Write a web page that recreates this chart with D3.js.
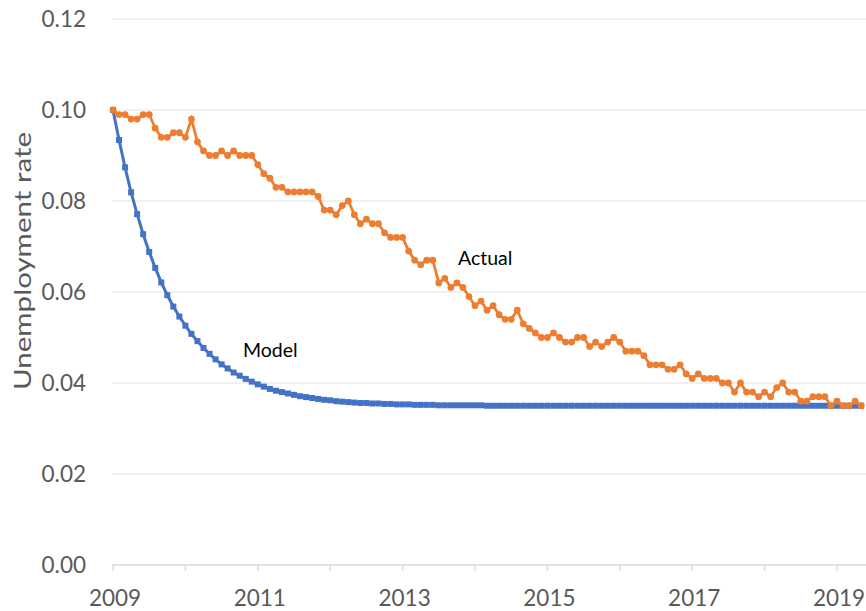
<!DOCTYPE html>
<html>
<head>
<meta charset="utf-8">
<script src="https://cdn.jsdelivr.net/npm/d3@7"></script>
<style>
  body { margin: 0; background: #fff; }
  svg { display: block; font-family: Lato, "Open Sans", sans-serif; }
</style>
</head>
<body>
<div id="chart"></div>
<script>
// monthly series, first point plotted at 2009.0, one step = 1/12 year
var actual = [
  0.100, 0.099, 0.099,
  0.098, 0.098, 0.099, 0.099, 0.096, 0.094, 0.094, 0.095, 0.095, 0.094, 0.098, 0.093,
  0.091, 0.090, 0.090, 0.091, 0.090, 0.091, 0.090, 0.090, 0.090, 0.088, 0.086, 0.085,
  0.083, 0.083, 0.082, 0.082, 0.082, 0.082, 0.082, 0.081, 0.078, 0.078, 0.077, 0.079,
  0.080, 0.077, 0.075, 0.076, 0.075, 0.075, 0.073, 0.072, 0.072, 0.072, 0.069, 0.067,
  0.066, 0.067, 0.067, 0.062, 0.063, 0.061, 0.062, 0.061, 0.059, 0.057, 0.058, 0.056,
  0.057, 0.055, 0.054, 0.054, 0.056, 0.053, 0.052, 0.051, 0.050, 0.050, 0.051, 0.050,
  0.049, 0.049, 0.050, 0.050, 0.048, 0.049, 0.048, 0.049, 0.050, 0.049, 0.047, 0.047,
  0.047, 0.046, 0.044, 0.044, 0.044, 0.043, 0.043, 0.044, 0.042, 0.041, 0.042, 0.041,
  0.041, 0.041, 0.040, 0.040, 0.038, 0.040, 0.038, 0.038, 0.037, 0.038, 0.037, 0.039,
  0.040, 0.038, 0.038, 0.036, 0.036, 0.037, 0.037, 0.037, 0.035, 0.036, 0.035, 0.035,
  0.036, 0.035
];

var model = [
  0.1000, 0.0934, 0.0874, 0.0819, 0.0771, 0.0727, 0.0688, 0.0653, 0.0621, 0.0593,
  0.0568, 0.0546, 0.0526, 0.0508, 0.0492, 0.0477, 0.0464, 0.0452, 0.0441, 0.0432,
  0.0423, 0.0416, 0.0409, 0.0403, 0.0397, 0.0392, 0.0387, 0.0383, 0.0380, 0.0377,
  0.0374, 0.0371, 0.0369, 0.0367, 0.0365, 0.0363, 0.0362, 0.0360, 0.0359, 0.0358,
  0.0357, 0.0356, 0.0356, 0.0355, 0.0355, 0.0354, 0.0354, 0.0353, 0.0353, 0.0353,
  0.0352, 0.0352, 0.0352, 0.0352, 0.0351, 0.0351, 0.0351, 0.0351, 0.0351, 0.0351,
  0.0351, 0.0351, 0.0350, 0.0350, 0.0350, 0.0350, 0.0350, 0.0350, 0.0350, 0.0350,
  0.0350, 0.0350, 0.0350, 0.0350, 0.0350, 0.0350, 0.0350, 0.0350, 0.0350, 0.0350,
  0.0350, 0.0350, 0.0350, 0.0350, 0.0350, 0.0350, 0.0350, 0.0350, 0.0350, 0.0350,
  0.0350, 0.0350, 0.0350, 0.0350, 0.0350, 0.0350, 0.0350, 0.0350, 0.0350, 0.0350,
  0.0350, 0.0350, 0.0350, 0.0350, 0.0350, 0.0350, 0.0350, 0.0350, 0.0350, 0.0350,
  0.0350, 0.0350, 0.0350, 0.0350, 0.0350, 0.0350, 0.0350, 0.0350, 0.0350, 0.0350,
  0.0350, 0.0350, 0.0350, 0.0350, 0.0350
];

var startYear = 2009;
var yTicks = [0, 0.02, 0.04, 0.06, 0.08, 0.10, 0.12];
var xTicks = [2009, 2010, 2011, 2012, 2013, 2014, 2015, 2016, 2017, 2018, 2019];
var xLabels = [2009, 2011, 2013, 2015, 2017, 2019];

var width = 866, height = 611;

var x = d3.scaleLinear()
    .domain([2009, 2019])
    .range([113, 837]);
var y = d3.scaleLinear()
    .domain([0, 0.12])
    .range([565, 19]);

var svg = d3.select("#chart").append("svg")
    .attr("width", width)
    .attr("height", height);

// horizontal gridlines
svg.append("g")
  .selectAll("line")
  .data(yTicks.filter(function(d) { return d > 0; }))
  .enter().append("line")
    .attr("x1", 112)
    .attr("x2", width)
    .attr("y1", function(d) { return y(d); })
    .attr("y2", function(d) { return y(d); })
    .style("stroke", "#ebebeb")
    .style("stroke-width", 1.3);

// y labels
svg.append("g")
  .selectAll("text")
  .data(yTicks)
  .enter().append("text")
    .attr("x", 86)
    .attr("y", function(d) { return y(d); })
    .attr("dy", "0.36em")
    .attr("text-anchor", "end")
    .style("font-size", "22.5px")
    .style("fill", "#595959")
    .text(function(d) { return d3.format(".2f")(d); });

// x axis line and ticks
svg.append("line")
    .attr("x1", 112)
    .attr("x2", width)
    .attr("y1", y(0))
    .attr("y2", y(0))
    .style("stroke", "#d9d9d9")
    .style("stroke-width", 1.5);

svg.append("g")
  .selectAll("line")
  .data(xTicks)
  .enter().append("line")
    .attr("x1", function(d) { return x(d); })
    .attr("x2", function(d) { return x(d); })
    .attr("y1", y(0))
    .attr("y2", y(0) + 6)
    .style("stroke", "#d9d9d9")
    .style("stroke-width", 1.3);

svg.append("g")
  .selectAll("text")
  .data(xLabels)
  .enter().append("text")
    .attr("x", function(d) { return x(d) + 2; })
    .attr("y", 606)
    .attr("text-anchor", "middle")
    .style("font-size", "22.5px")
    .style("fill", "#595959")
    .text(function(d) { return d; });

// y axis title
svg.append("text")
    .attr("transform", "translate(31,261) rotate(-90)")
    .attr("text-anchor", "middle")
    .attr("textLength", 258)
    .attr("lengthAdjust", "spacingAndGlyphs")
    .style("font-size", "23px")
    .style("fill", "#595959")
    .text("Unemployment rate");

var xi = function(d, i) { return x(startYear + i / 12); };

// model line
var line = d3.line()
    .x(xi)
    .y(function(d) { return y(d); });

svg.append("path")
    .datum(model)
    .attr("d", line)
    .style("fill", "none")
    .style("stroke", "#4472C4")
    .style("stroke-width", 3);

svg.append("g")
  .selectAll("rect")
  .data(model)
  .enter().append("rect")
    .attr("x", function(d, i) { return xi(d, i) - 3; })
    .attr("y", function(d) { return y(d) - 3; })
    .attr("width", 6)
    .attr("height", 6)
    .style("fill", "#4472C4");

// actual line
svg.append("path")
    .datum(actual)
    .attr("d", line)
    .style("fill", "none")
    .style("stroke", "#ED7D31")
    .style("stroke-width", 2.75);

svg.append("g")
  .selectAll("circle")
  .data(actual)
  .enter().append("circle")
    .attr("cx", xi)
    .attr("cy", function(d) { return y(d); })
    .attr("r", 3.4)
    .style("fill", "#ED7D31");

// series labels
svg.append("text")
    .attr("x", 243)
    .attr("y", 357)
    .style("font-size", "19.5px")
    .style("fill", "#000")
    .text("Model");

svg.append("text")
    .attr("x", 458)
    .attr("y", 265)
    .style("font-size", "19.5px")
    .style("fill", "#000")
    .text("Actual");
</script>
</body>
</html>
